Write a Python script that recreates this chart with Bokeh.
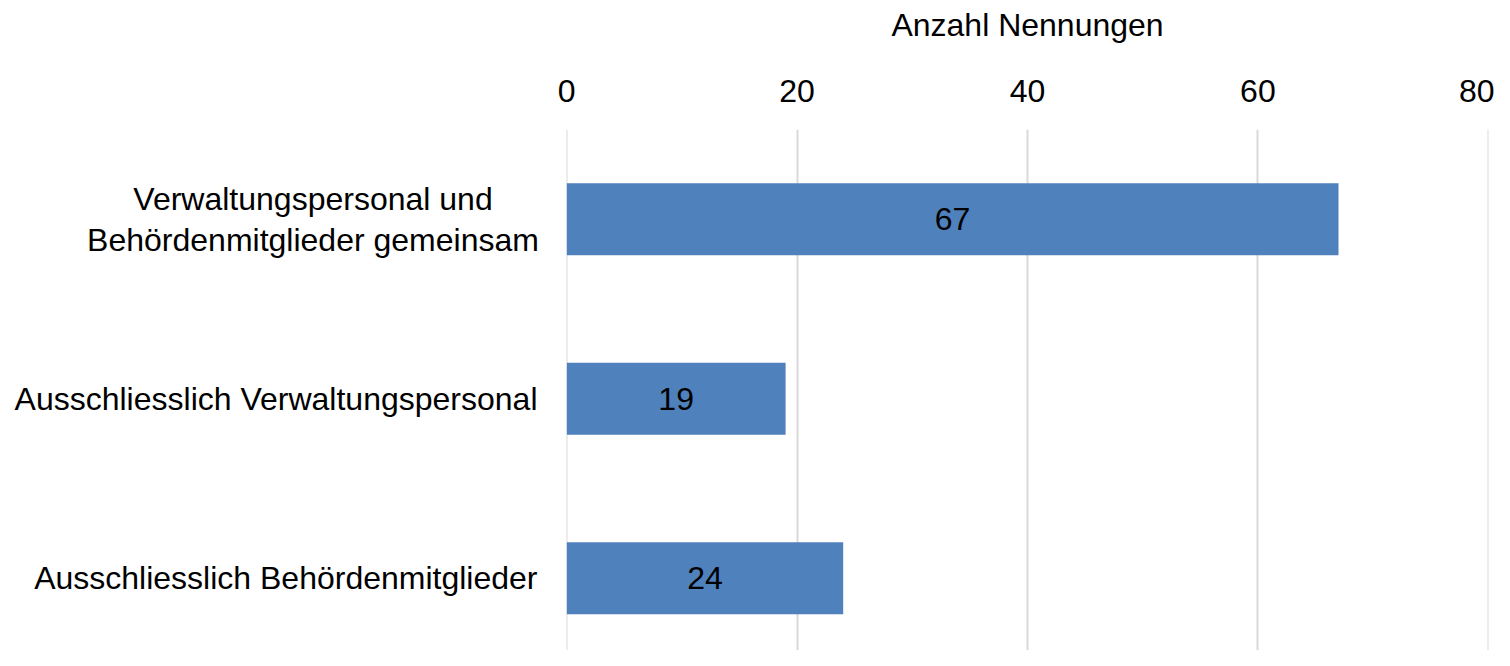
from bokeh.plotting import figure
from bokeh.layouts import row
from bokeh.models import Range1d, FixedTicker, ColumnDataSource
from bokeh.core.properties import value
from bokeh.embed import file_html
from bokeh.resources import INLINE

categories = [
    "Verwaltungspersonal und\nBehördenmitglieder gemeinsam",
    "Ausschliesslich Verwaltungspersonal",
    "Ausschliesslich Behördenmitglieder",
]
counts = [67, 19, 24]
x_ticks = [0, 20, 40, 60, 80]
x_title = "Anzahl Nennungen"

FONT = "Liberation Sans"
BAR_COLOR = "#4F81BD"
FS = "32px"

pos = list(range(len(categories)))
src = ColumnDataSource(dict(
    y=pos,
    right=counts,
    mid=[c / 2 for c in counts],
    label=[str(c) for c in counts],
))

# shared category scale (top category at top)
y_range = Range1d(start=2.4025, end=-0.5)
TOP = 129
LABEL_W = 540
PLOT_PAD_LEFT = 26
EDGE = 0.02  # tiny margin so the grid lines at 0 and 80 are drawn

# ---- category label panel (left) ----
LABEL_RIGHT = 537
lab_x = [LABEL_RIGHT - 224.5 if "\n" in c else LABEL_RIGHT for c in categories]
lab_align = ["center" if "\n" in c else "right" for c in categories]
lab_src = ColumnDataSource(dict(y=pos, x=lab_x, text=categories, align=lab_align))

lp = figure(
    width=LABEL_W, height=650,
    x_range=Range1d(0, LABEL_W), y_range=y_range,
    x_axis_location=None, y_axis_location=None,
    output_backend="svg", toolbar_location=None,
    min_border_left=0, min_border_right=0,
    min_border_top=TOP, min_border_bottom=0,
)
lp.outline_line_color = None
lp.grid.visible = False
lp.text(x="x", y="y", text="text", source=lab_src,
        text_align="align", text_baseline="middle",
        text_font=value(FONT), text_font_size=FS, text_color="black",
        text_line_height=1.15)

# ---- bar chart ----
p = figure(
    width=1494 - LABEL_W, height=650,
    x_range=Range1d(x_ticks[0] - EDGE, x_ticks[-1] + EDGE), y_range=y_range,
    x_axis_location="above", y_axis_location=None,
    output_backend="svg", toolbar_location=None,
    min_border_left=PLOT_PAD_LEFT, min_border_right=6,
    min_border_top=TOP, min_border_bottom=0,
)
p.outline_line_color = None

p.hbar(y="y", left=0, right="right", height=0.4, source=src,
       fill_color=BAR_COLOR, line_color=None)
p.text(x="mid", y="y", text="label", source=src,
       text_align="center", text_baseline="middle",
       text_font=value(FONT), text_font_size=FS, text_color="black")

xa = p.xaxis[0]
xa.ticker = FixedTicker(ticks=x_ticks)
xa.axis_label = x_title
xa.axis_label_text_font = FONT
xa.axis_label_text_font_size = FS
xa.axis_label_text_font_style = "normal"
xa.axis_label_text_color = "black"
xa.axis_label_standoff = 34
xa.major_label_text_font = FONT
xa.major_label_text_font_size = FS
xa.major_label_text_color = "black"
xa.major_label_standoff = 22
xa.axis_line_color = None
xa.major_tick_line_color = None
xa.minor_tick_line_color = None

p.ygrid.visible = False
p.xgrid.ticker = FixedTicker(ticks=x_ticks)
p.xgrid.grid_line_color = "#d9d9d9"
p.xgrid.grid_line_width = 2

layout = row(lp, p, spacing=0)
open("out.html", "w").write(file_html(layout, INLINE))
